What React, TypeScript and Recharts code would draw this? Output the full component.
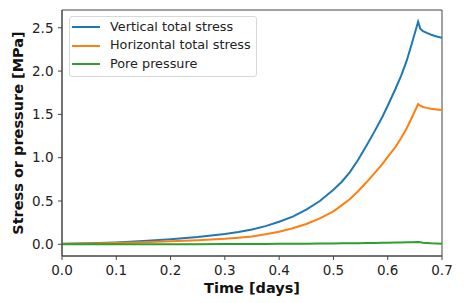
import { LineChart, Line, XAxis, YAxis, Legend, ReferenceArea } from "recharts";

/* stress and pore pressure history over a loading test */

const times = [
  0, 0.05, 0.1, 0.15, 0.2, 0.25, 0.3, 0.325, 0.35, 0.375, 0.4, 0.425, 0.45,
  0.475, 0.5, 0.515, 0.53, 0.545, 0.56, 0.575, 0.59, 0.6, 0.614, 0.625, 0.635,
  0.645, 0.656, 0.66, 0.665, 0.672, 0.68, 0.69, 0.7,
];

const verticalStress = [
  0.005, 0.012, 0.022, 0.037, 0.058, 0.085, 0.12, 0.143, 0.17, 0.21, 0.26,
  0.32, 0.4, 0.5, 0.63, 0.72, 0.83, 0.97, 1.13, 1.295, 1.47, 1.6, 1.79, 1.95,
  2.12, 2.33, 2.57, 2.49, 2.46, 2.44, 2.42, 2.4, 2.385,
];

const horizontalStress = [
  0.003, 0.008, 0.014, 0.024, 0.035, 0.048, 0.065, 0.077, 0.09, 0.115, 0.145,
  0.185, 0.235, 0.3, 0.38, 0.45, 0.52, 0.61, 0.71, 0.815, 0.925, 1.01, 1.12,
  1.23, 1.34, 1.47, 1.62, 1.6, 1.585, 1.575, 1.565, 1.557, 1.55,
];

const porePressure = [
  0, 0, 0.001, 0.001, 0.002, 0.002, 0.003, 0.003, 0.004, 0.004, 0.005, 0.006,
  0.007, 0.008, 0.01, 0.011, 0.012, 0.013, 0.014, 0.016, 0.017, 0.018, 0.02,
  0.021, 0.023, 0.024, 0.026, 0.023, 0.019, 0.015, 0.011, 0.008, 0.005,
];

const xTicks = [0, 0.1, 0.2, 0.3, 0.4, 0.5, 0.6, 0.7];
const yTicks = [0, 0.5, 1, 1.5, 2, 2.5];

const X_MIN = 0;
const X_MAX = 0.7;
const Y_MIN = -0.135;
const Y_MAX = 2.705;

const series = [
  { key: "vertical", name: "Vertical total stress", color: "#1f77b4" },
  { key: "horizontal", name: "Horizontal total stress", color: "#ff7f0e" },
  { key: "pore", name: "Pore pressure", color: "#2ca02c" },
];

const rows = times.map((t, i) => ({
  t,
  vertical: verticalStress[i],
  horizontal: horizontalStress[i],
  pore: porePressure[i],
}));

const spine = "#444";
const tickStyle = { fill: "#222", fontSize: 13.5 };
const labelStyle = { fill: "#111", fontSize: 14.5, fontWeight: 700 };

function LegendBox() {
  return (
    <div
      style={{
        boxSizing: "border-box",
        width: 188,
        height: 61,
        border: "1px solid #d8d8d8",
        borderRadius: 3,
        background: "rgba(255,255,255,0.85)",
        padding: "1px 0 0 2px",
      }}
    >
      {series.map((s) => (
        <div
          key={s.key}
          style={{ display: "flex", alignItems: "center", height: 18.5 }}
        >
          <svg width={28} height={4} style={{ display: "block" }}>
            <line x1={0} y1={2} x2={28} y2={2} stroke={s.color} strokeWidth={2} />
          </svg>
          <span
            style={{ marginLeft: 10, fontSize: 12.8, color: "#222", lineHeight: 1 }}
          >
            {s.name}
          </span>
        </div>
      ))}
    </div>
  );
}

export default function App() {
  return (
    <div
      style={{
        position: "absolute",
        left: 0,
        top: 0,
        width: 472,
        height: 303,
        background: "#fff",
        fontFamily: "'DejaVu Sans', sans-serif",
      }}
    >
      <LineChart
        width={472}
        height={303}
        data={rows}
        margin={{ top: 10, right: 30, bottom: 0, left: 0 }}
      >
        <XAxis
          dataKey="t"
          type="number"
          domain={[X_MIN, X_MAX]}
          ticks={xTicks}
          interval={0}
          allowDataOverflow
          tickFormatter={(v: number) => v.toFixed(1)}
          height={47}
          tickSize={4}
          tickMargin={5}
          stroke={spine}
          tick={tickStyle}
          label={{
            value: "Time [days]",
            position: "center",
            dy: 8,
            style: labelStyle,
          }}
        />
        <YAxis
          type="number"
          domain={[Y_MIN, Y_MAX]}
          ticks={yTicks}
          interval={0}
          allowDataOverflow
          tickFormatter={(v: number) => v.toFixed(1)}
          width={62}
          tickSize={4}
          tickMargin={4.5}
          stroke={spine}
          tick={tickStyle}
          label={{
            value: "Stress or pressure [MPa]",
            angle: -90,
            position: "center",
            dx: -13,
            style: labelStyle,
          }}
        />
        <ReferenceArea
          x1={X_MIN}
          x2={X_MAX}
          y1={Y_MIN}
          y2={Y_MAX}
          fill="none"
          stroke={spine}
          strokeWidth={1}
          ifOverflow="visible"
        />
        {series.map((s) => (
          <Line
            key={s.key}
            type="linear"
            dataKey={s.key}
            name={s.name}
            stroke={s.color}
            strokeWidth={2}
            dot={false}
            isAnimationActive={false}
          />
        ))}
        <Legend
          layout="vertical"
          verticalAlign="middle"
          align="center"
          wrapperStyle={{ left: 69, top: 16, width: 188, height: 61 }}
          content={() => <LegendBox />}
        />
      </LineChart>
    </div>
  );
}
